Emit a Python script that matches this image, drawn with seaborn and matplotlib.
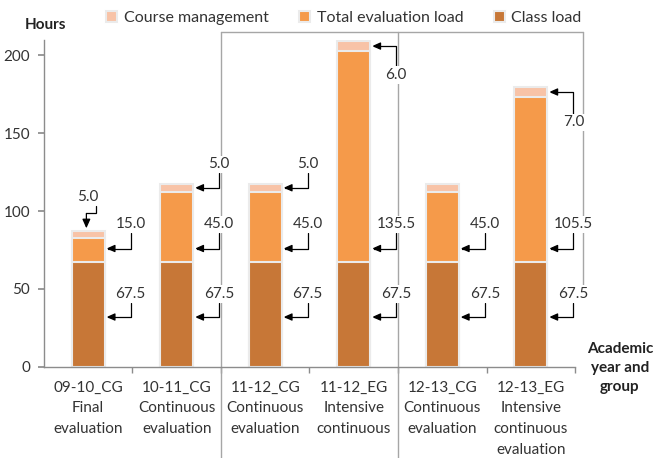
import matplotlib
matplotlib.use('Agg')
import matplotlib.pyplot as plt
import seaborn as sns
import pandas as pd
import numpy as np

# data
groups = ['09-10_CG', '10-11_CG', '11-12_CG', '11-12_EG', '12-13_CG', '12-13_EG']
methods = ['Final\nevaluation', 'Continuous\nevaluation', 'Continuous\nevaluation',
           'Intensive\ncontinuous', 'Continuous\nevaluation',
           'Intensive\ncontinuous\nevaluation']
class_load = [67.5, 67.5, 67.5, 67.5, 67.5, 67.5]
eval_load = [15.0, 45.0, 45.0, 135.5, 45.0, 105.5]
course_mgmt = [5.0, 5.0, 5.0, 6.0, 5.0, 7.0]

C_COURSE = '#f8c3a7'
C_EVAL = '#f59a4a'
C_CLASS = '#c77737'

sns.set_theme(style='white')
plt.rcParams['font.family'] = ['Lato', 'DejaVu Sans']
plt.rcParams['text.color'] = '#333333'

df = pd.DataFrame({'group': groups, 'class_load': class_load,
                   'eval_load': eval_load, 'course': course_mgmt})
df['class_top'] = df['class_load']
df['eval_top'] = df['class_load'] + df['eval_load']
df['course_top'] = df['eval_top'] + df['course']

fig = plt.figure(figsize=(6.55, 4.58), dpi=100)
ax = fig.add_axes([0.067, 0.199, 0.811, 0.714])

BAR_W = 0.375
series = [('course_top', C_COURSE, 'Course management'),
          ('eval_top', C_EVAL, 'Total evaluation load'),
          ('class_top', C_CLASS, 'Class load')]
for col, color, label in series:
    sns.barplot(data=df, x='group', y=col, color=color, saturation=1,
                width=BAR_W, edgecolor='#ebebeb', linewidth=1.5,
                errorbar=None, label=label, ax=ax)

handles, labels = ax.get_legend_handles_labels()
if ax.get_legend() is not None:
    ax.get_legend().remove()

FS = 11
ax.set_xlabel('')
ax.set_ylabel('')
ax.set_xlim(-0.5, 5.5)
ax.set_ylim(0, 210)
ax.set_yticks([0, 50, 100, 150, 200])
ax.set_xticks(range(len(groups)))
ax.set_xticklabels([f'{g}\n{m}' for g, m in zip(groups, methods)],
                   fontsize=FS, linespacing=1.6, va='top')
ax.set_xticks(np.arange(0.5, 6, 1), minor=True)
ax.tick_params(axis='x', which='major', length=0, pad=10, colors='#333333')
ax.tick_params(axis='x', which='minor', bottom=True, length=4, color='#8c8c8c')
ax.tick_params(axis='y', left=True, length=4, color='#8c8c8c', labelsize=FS,
               pad=6, labelcolor='#333333')
for s in ['top', 'right']:
    ax.spines[s].set_visible(False)
for s in ['left', 'bottom']:
    ax.spines[s].set_color('#8c8c8c')
    ax.spines[s].set_linewidth(1)

# group separator lines
line_kw = dict(color='#a6a6a6', lw=1, clip_on=False, zorder=1)
ax.plot([1.5, 1.5], [-60, 215.2], **line_kw)
ax.plot([3.5, 3.5], [-60, 215.2], **line_kw)
ax.plot([5.59, 5.59], [46, 215.2], **line_kw)
ax.plot([1.5, 5.59], [215.2, 215.2], **line_kw)

# value labels with elbow arrows
box = dict(boxstyle='square,pad=0.12', fc='white', ec='none')
arr = dict(arrowstyle='-|>,head_length=0.45,head_width=0.2', color='black',
           lw=0.9, shrinkA=0, shrinkB=0,
           connectionstyle='angle,angleA=90,angleB=0,rad=0')
LX = 0.48
right = BAR_W / 2 + 0.02
for i in range(len(groups)):
    ax.annotate(f'{class_load[i]:.1f}', xy=(i + right, 32), xytext=(i + LX, 47),
                ha='center', va='center', fontsize=FS, bbox=box, arrowprops=arr,
                zorder=5)
    ax.annotate(f'{eval_load[i]:.1f}', xy=(i + right, 76), xytext=(i + LX, 91.5),
                ha='center', va='center', fontsize=FS, bbox=box, arrowprops=arr,
                zorder=5)

course_label_y = {1: 130, 2: 130, 3: 187.5, 5: 157}
for i, ly in course_label_y.items():
    mid = df['course_top'][i] - course_mgmt[i] / 2
    ax.annotate(f'{course_mgmt[i]:.1f}', xy=(i + right, mid), xytext=(i + LX, ly),
                ha='center', va='center', fontsize=FS, bbox=box, arrowprops=arr,
                zorder=5)

# first bar: label sits above the bar, arrow drops onto its top
ax.text(0.0, 109, f'{course_mgmt[0]:.1f}', ha='center', va='center',
        fontsize=FS, zorder=5)
ax.plot([0.085, 0.085, -0.02], [103.5, 98.5, 98.5], color='black', lw=0.9,
        zorder=5, solid_joinstyle='miter')
ax.annotate('', xy=(-0.02, df['course_top'][0] + 1.5), xytext=(-0.02, 98.5),
            arrowprops=dict(arr, connectionstyle='arc3'), zorder=5)

fig.legend(handles, labels, loc='center', bbox_to_anchor=(0.525, 0.961), ncol=3,
           frameon=False, fontsize=11.5, handlelength=0.7, handleheight=0.7,
           handletextpad=0.4, columnspacing=1.9)

fig.text(45 / 655, 1 - 25 / 458, 'Hours', ha='center', va='center',
         fontweight='bold', fontsize=11, color='#222222')
fig.text(620 / 655, 1 - 368 / 458, 'Academic\nyear and\ngroup', ha='center',
         va='center', fontweight='bold', fontsize=11, linespacing=1.45,
         color='#222222')

fig.savefig('out.png', dpi=100)
